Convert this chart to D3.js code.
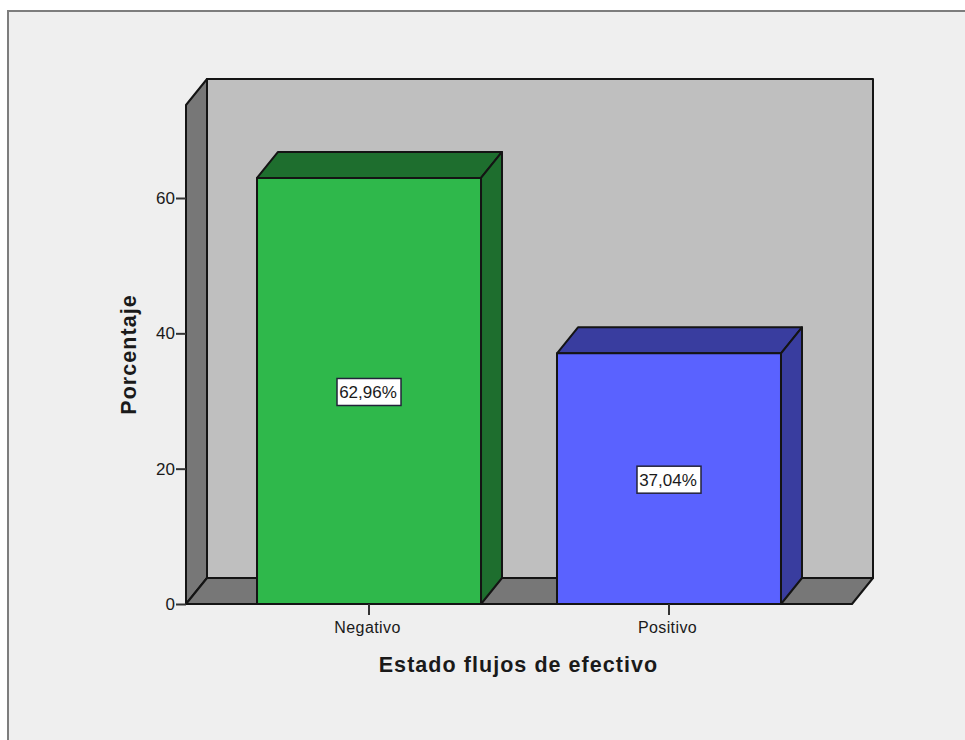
<!DOCTYPE html>
<html lang="es">
<head>
<meta charset="utf-8">
<script src="https://cdn.jsdelivr.net/npm/d3@7"></script>
<style>
  html, body { margin: 0; padding: 0; background: #fff; }
  svg { display: block; }
  text { font-family: "Liberation Sans", Arial, sans-serif; fill: #1a1a1a; }
</style>
</head>
<body>
<svg id="chart" width="965" height="740"></svg>
<script>
const categories = ["Negativo", "Positivo"];
const percentages = [62.96, 37.04];
const valueLabels = ["62,96%", "37,04%"];
const faceColors = ["#2fb84b", "#5a62ff"];
const shadeColors = ["#1e6e2e", "#393d9f"];
const yTicks = [0, 20, 40, 60];
const yTitle = "Porcentaje";
const xTitle = "Estado flujos de efectivo";

const W = 965, H = 740;
const depth = { x: 21, y: -26 };
const plot = { left: 186, right: 852, bottom: 604, top: 105 };

const svg = d3.select("#chart");
const y = d3.scaleLinear().domain([0, 60]).range([plot.bottom, 198]);
const x = d3.scaleBand().domain(categories).range([219, 819]).paddingInner(0.2533).paddingOuter(0.1267);

const line = d3.line();
const stroke = "#141414";

// Window panel behind the chart
svg.append("rect").attr("width", W).attr("height", H).attr("fill", "#fff");
svg.append("rect").attr("x", 8).attr("y", 11).attr("width", W).attr("height", H)
  .attr("fill", "#efefef").attr("stroke", "#7d7d7d").attr("stroke-width", 2);

function face(points, fill, width = 2) {
  svg.append("path").attr("d", line(points) + "Z")
    .attr("fill", fill).attr("stroke", stroke).attr("stroke-width", width)
    .attr("stroke-linejoin", "round");
}

// Box walls: back, left side and floor
const d = depth;
face([[plot.left + d.x, plot.top + d.y], [plot.right + d.x, plot.top + d.y],
      [plot.right + d.x, plot.bottom + d.y], [plot.left + d.x, plot.bottom + d.y]], "#bfbfbf");
face([[plot.left, plot.top], [plot.left + d.x, plot.top + d.y],
      [plot.left + d.x, plot.bottom + d.y], [plot.left, plot.bottom]], "#777777");
face([[plot.left, plot.bottom], [plot.left + d.x, plot.bottom + d.y],
      [plot.right + d.x, plot.bottom + d.y], [plot.right, plot.bottom]], "#777777");

// Bars: front, top and right-hand faces
categories.forEach((c, i) => {
  const x0 = x(c), x1 = x0 + x.bandwidth(), yt = y(percentages[i]), yb = y(0);
  face([[x0, yt], [x0 + d.x, yt + d.y], [x1 + d.x, yt + d.y], [x1, yt]], shadeColors[i]);
  face([[x1, yt], [x1 + d.x, yt + d.y], [x1 + d.x, yb + d.y], [x1, yb]], shadeColors[i]);
  face([[x0, yt], [x1, yt], [x1, yb], [x0, yb]], faceColors[i]);

  // Value label in a white box at the middle of the bar
  const cx = x0 + x.bandwidth() / 2;
  const cy = y(percentages[i] / 2) + 1;
  svg.append("rect").attr("x", cx - 32).attr("y", cy - 13.5).attr("width", 64).attr("height", 27)
    .attr("fill", "#fff").attr("stroke", "#23233a").attr("stroke-width", 1.5);
  svg.append("text").attr("x", cx - 1).attr("y", cy + 6).attr("text-anchor", "middle")
    .attr("font-size", 17).text(valueLabels[i]);
});

// Axes
const yAxis = d3.axisLeft(y).tickValues(yTicks).tickSize(10).tickPadding(1).tickFormat(d3.format("d"));
const gy = svg.append("g").attr("transform", `translate(${plot.left},0)`).call(yAxis);
gy.select(".domain").remove();
gy.selectAll("line").attr("stroke", "#333").attr("stroke-width", 2);
gy.selectAll("text").attr("font-size", 17).attr("font-family", "Liberation Sans").attr("fill", "#1a1a1a");

const xAxis = d3.axisBottom(x).tickSize(11).tickPadding(7);
const gx = svg.append("g").attr("transform", `translate(0,${plot.bottom})`).call(xAxis);
gx.select(".domain").remove();
gx.selectAll("line").attr("stroke", "#333").attr("stroke-width", 2);
gx.selectAll("text").attr("font-size", 16).attr("letter-spacing", 0.4).attr("dx", -1.5)
  .attr("font-family", "Liberation Sans").attr("fill", "#1a1a1a");

// Axis titles
svg.append("text").attr("x", 518.5).attr("y", 672).attr("text-anchor", "middle")
  .attr("font-size", 21.5).attr("font-weight", "bold").attr("letter-spacing", 1.05)
  .attr("fill", "#0a0a0a").text(xTitle);
svg.append("text").attr("transform", "translate(136,354.5) rotate(-90)").attr("text-anchor", "middle")
  .attr("font-size", 21.5).attr("font-weight", "bold").attr("letter-spacing", 1.05)
  .attr("fill", "#0a0a0a").text(yTitle);
</script>
</body>
</html>
